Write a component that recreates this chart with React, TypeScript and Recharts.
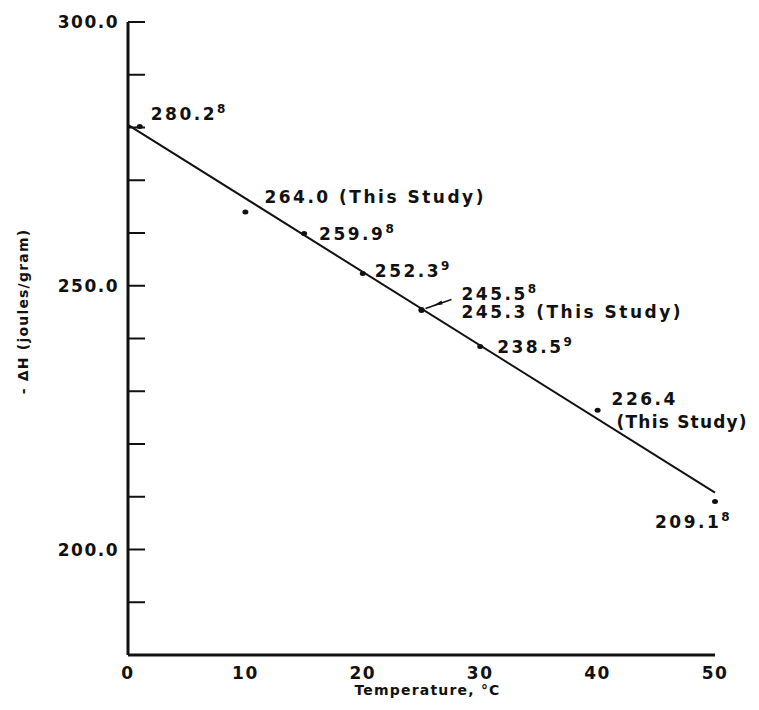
import { ComposedChart, Line, Scatter, XAxis, YAxis, Label } from 'recharts';

const temps = [1, 10, 15, 20, 25, 25, 30, 40, 50];
const enthalpy = [280.2, 264.0, 259.9, 252.3, 245.5, 245.3, 238.5, 226.4, 209.1];
const pointText = ['280.2', '264.0 (This Study)', '259.9', '252.3', '245.5', '245.3 (This Study)', '238.5', '226.4', '209.1'];
const refNote = ['8', '', '8', '9', '8', '', '9', '', '8'];

// fitted straight line end points
const fitTemps = [0, 50];
const fitEnthalpy = [280.5, 210.8];

const xTicks = [0, 10, 20, 30, 40, 50];
const yTicks = [180, 190, 200, 210, 220, 230, 240, 250, 260, 270, 280, 290, 300];

const points = temps.map((t, i) => ({ t, h: enthalpy[i], text: pointText[i], ref: refNote[i] }));
const fitLine = fitTemps.map((t, i) => ({ t, h: fitEnthalpy[i] }));

const FONT = '"DejaVu Sans", sans-serif';
const ink = '#111';

// label placement relative to each dot (px)
const labelOffset = [
  [11, -13], [19, -15], [15, 0], [12, -3], [40, -16], [40, 1], [17, 0], [14, -11], [-60, 20],
];

const txt = { fontFamily: FONT, fontSize: 17, fontWeight: 700, letterSpacing: 2.5, fill: ink };

const renderPoint = (props: any) => {
  const { cx, cy, index, payload } = props;
  const [dx, dy] = labelOffset[index];
  return (
    <g>
      <ellipse cx={cx} cy={cy} rx={3} ry={2.5} fill={ink} />
      {index === 4 && (
        <g>
          <line x1={cx + 30} y1={cy - 10} x2={cx + 4} y2={cy - 1} stroke={ink} strokeWidth={1.5} />
          <polygon points={`${cx + 12},${cy - 4} ${cx + 20},${cy - 9} ${cx + 21},${cy - 5}`} fill={ink} />
        </g>
      )}
      <text x={cx + dx} y={cy + dy} dy="0.36em" {...txt}>
        {payload.text.replace(' (This Study)', '')}
        {payload.text.includes('(This Study)') && index !== 7 ? ' (This Study)' : ''}
        {payload.ref && (
          <tspan dy="-0.55em" fontSize={12} letterSpacing={0}>{payload.ref}</tspan>
        )}
      </text>
      {index === 7 && (
        <text x={cx + 19} y={cy + 12} dy="0.36em" {...txt} letterSpacing={1.2}>(This Study)</text>
      )}
    </g>
  );
};

const YTick = (props: any) => {
  const { x, y, payload } = props;
  const v = payload.value;
  return (
    <g>
      <line x1={x + 10} x2={x + 27} y1={y} y2={y} stroke={ink} strokeWidth={2} />
      {v % 50 === 0 && (
        <text x={x + 1} y={y} dy="0.36em" textAnchor="end" {...txt} letterSpacing={1.5}>
          {v.toFixed(1)}
        </text>
      )}
    </g>
  );
};

const YTitle = (props: any) => {
  const { viewBox } = props;
  const x = viewBox.x + 15;
  const y = viewBox.y + viewBox.height / 2 - 27;
  return (
    <text x={x} y={y} transform={`rotate(-90 ${x} ${y})`} textAnchor="middle" dy="0.36em"
      fontFamily={FONT} fontSize={14} fontWeight={700} letterSpacing={1.2} fill={ink}>
      - ΔH (joules/gram)
    </text>
  );
};

const XTitle = (props: any) => {
  const { viewBox } = props;
  return (
    <text x={viewBox.x + viewBox.width / 2 + 6} y={viewBox.y + 35} textAnchor="middle" dy="0.36em"
      fontFamily={FONT} fontSize={14} fontWeight={700} letterSpacing={1.2} fill={ink}>
      Temperature, °C
    </text>
  );
};

export default function App() {
  return (
    <ComposedChart width={751} height={694} margin={{ top: 14, right: 44, bottom: 0, left: 0 }}>
      <XAxis
        type="number"
        dataKey="t"
        domain={[0, 50]}
        ticks={xTicks}
        height={47}
        tickLine={false}
        tickSize={0}
        tickMargin={12}
        axisLine={{ stroke: ink, strokeWidth: 3 }}
        tick={{ ...txt, letterSpacing: 1.5 }}
        interval={0}
      >
        <Label content={XTitle} />
      </XAxis>
      <YAxis
        type="number"
        dataKey="h"
        domain={[180, 300]}
        ticks={yTicks}
        width={120}
        tickLine={false}
        tickSize={0}
        tickMargin={10}
        axisLine={{ stroke: ink, strokeWidth: 3 }}
        tick={YTick}
        interval={0}
      >
        <Label content={YTitle} />
      </YAxis>
      <Line data={fitLine} dataKey="h" type="linear" stroke={ink} strokeWidth={2} dot={false} isAnimationActive={false} />
      <Scatter data={points} dataKey="h" shape={renderPoint} isAnimationActive={false} />
    </ComposedChart>
  );
}
